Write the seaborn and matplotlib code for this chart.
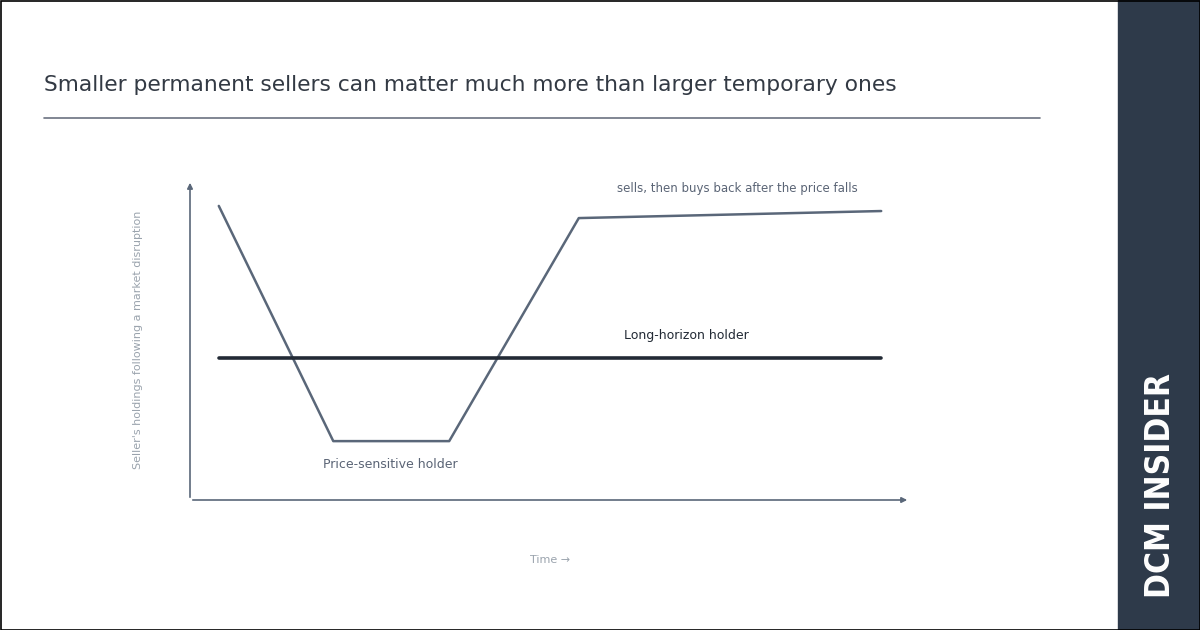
import matplotlib
matplotlib.use("Agg")
import matplotlib.pyplot as plt
import seaborn as sns
import pandas as pd
from matplotlib.patches import Rectangle

sns.set_theme(style="white")
plt.rcParams['font.family'] = ['DejaVu Sans']

time_ps = [4, 19.9, 36, 54, 96]
holdings_ps = [91.9, 18.4, 18.4, 88.1, 90.3]
time_lh = [4, 96]
holdings_lh = [44.4, 44.4]

W, H = 1200, 630
fig = plt.figure(figsize=(12, 6.3), dpi=100)
fig.patch.set_facecolor("white")

ax = fig.add_axes([190/W, (H-500)/H, 720/W, 320/H])
ax.set_xlim(0, 100); ax.set_ylim(0, 100)
sns.lineplot(x=time_ps, y=holdings_ps, ax=ax, color="#5a6779", lw=1.8, sort=False)
sns.lineplot(x=time_lh, y=holdings_lh, ax=ax, color="#222a35", lw=2.6, sort=False)
for s in ax.spines.values():
    s.set_visible(False)
ax.set_xticks([]); ax.set_yticks([])
ax.annotate("", xy=(1.0, 0), xytext=(0, 0), xycoords="axes fraction",
            arrowprops=dict(arrowstyle="-|>", color="#5a6779", lw=1.2, mutation_scale=8))
ax.annotate("", xy=(0, 1.0), xytext=(0, 0), xycoords="axes fraction",
            arrowprops=dict(arrowstyle="-|>", color="#5a6779", lw=1.2, mutation_scale=8))
ax.patch.set_alpha(0)

def px(x, y):
    return x / W, 1 - y / H

fig.text(*px(44, 85), "Smaller permanent sellers can matter much more than larger temporary ones",
         fontsize=15.7, color="#333a44", va="center", ha="left")
fig.add_artist(plt.Line2D([44/W, 1040/W], [1-118/H]*2, color="#6b7280", lw=1.2))
fig.text(*px(138, 340), "Seller's holdings following a market disruption", rotation=90,
         fontsize=8, color="#9aa3ad", ha="center", va="center")
fig.text(*px(550, 560), "Time →", fontsize=8, color="#9aa3ad", ha="center", va="center")
fig.text(*px(737, 188), "sells, then buys back after the price falls", fontsize=8.5,
         color="#5a6475", ha="center", va="center")
fig.text(*px(686, 335), "Long-horizon holder", fontsize=9, color="#222a35", ha="center", va="center")
fig.text(*px(390, 464), "Price-sensitive holder", fontsize=9, color="#5a6475", ha="center", va="center")

fig.add_artist(Rectangle((1118/W, 0), 82/W, 1, transform=fig.transFigure, color="#2e3a4a", zorder=0))
fig.text(*px(1160, 485), "DCM INSIDER", rotation=90, fontsize=24, fontweight="bold",
         color="white", ha="center", va="center", fontstretch="condensed",
         family=["DejaVu Sans"])
fig.add_artist(Rectangle((0.5/W, 0.5/H), 1-1/W, 1-1/H, transform=fig.transFigure,
                         fill=False, ec="black", lw=1.2))
fig.savefig("out.png", dpi=100)
